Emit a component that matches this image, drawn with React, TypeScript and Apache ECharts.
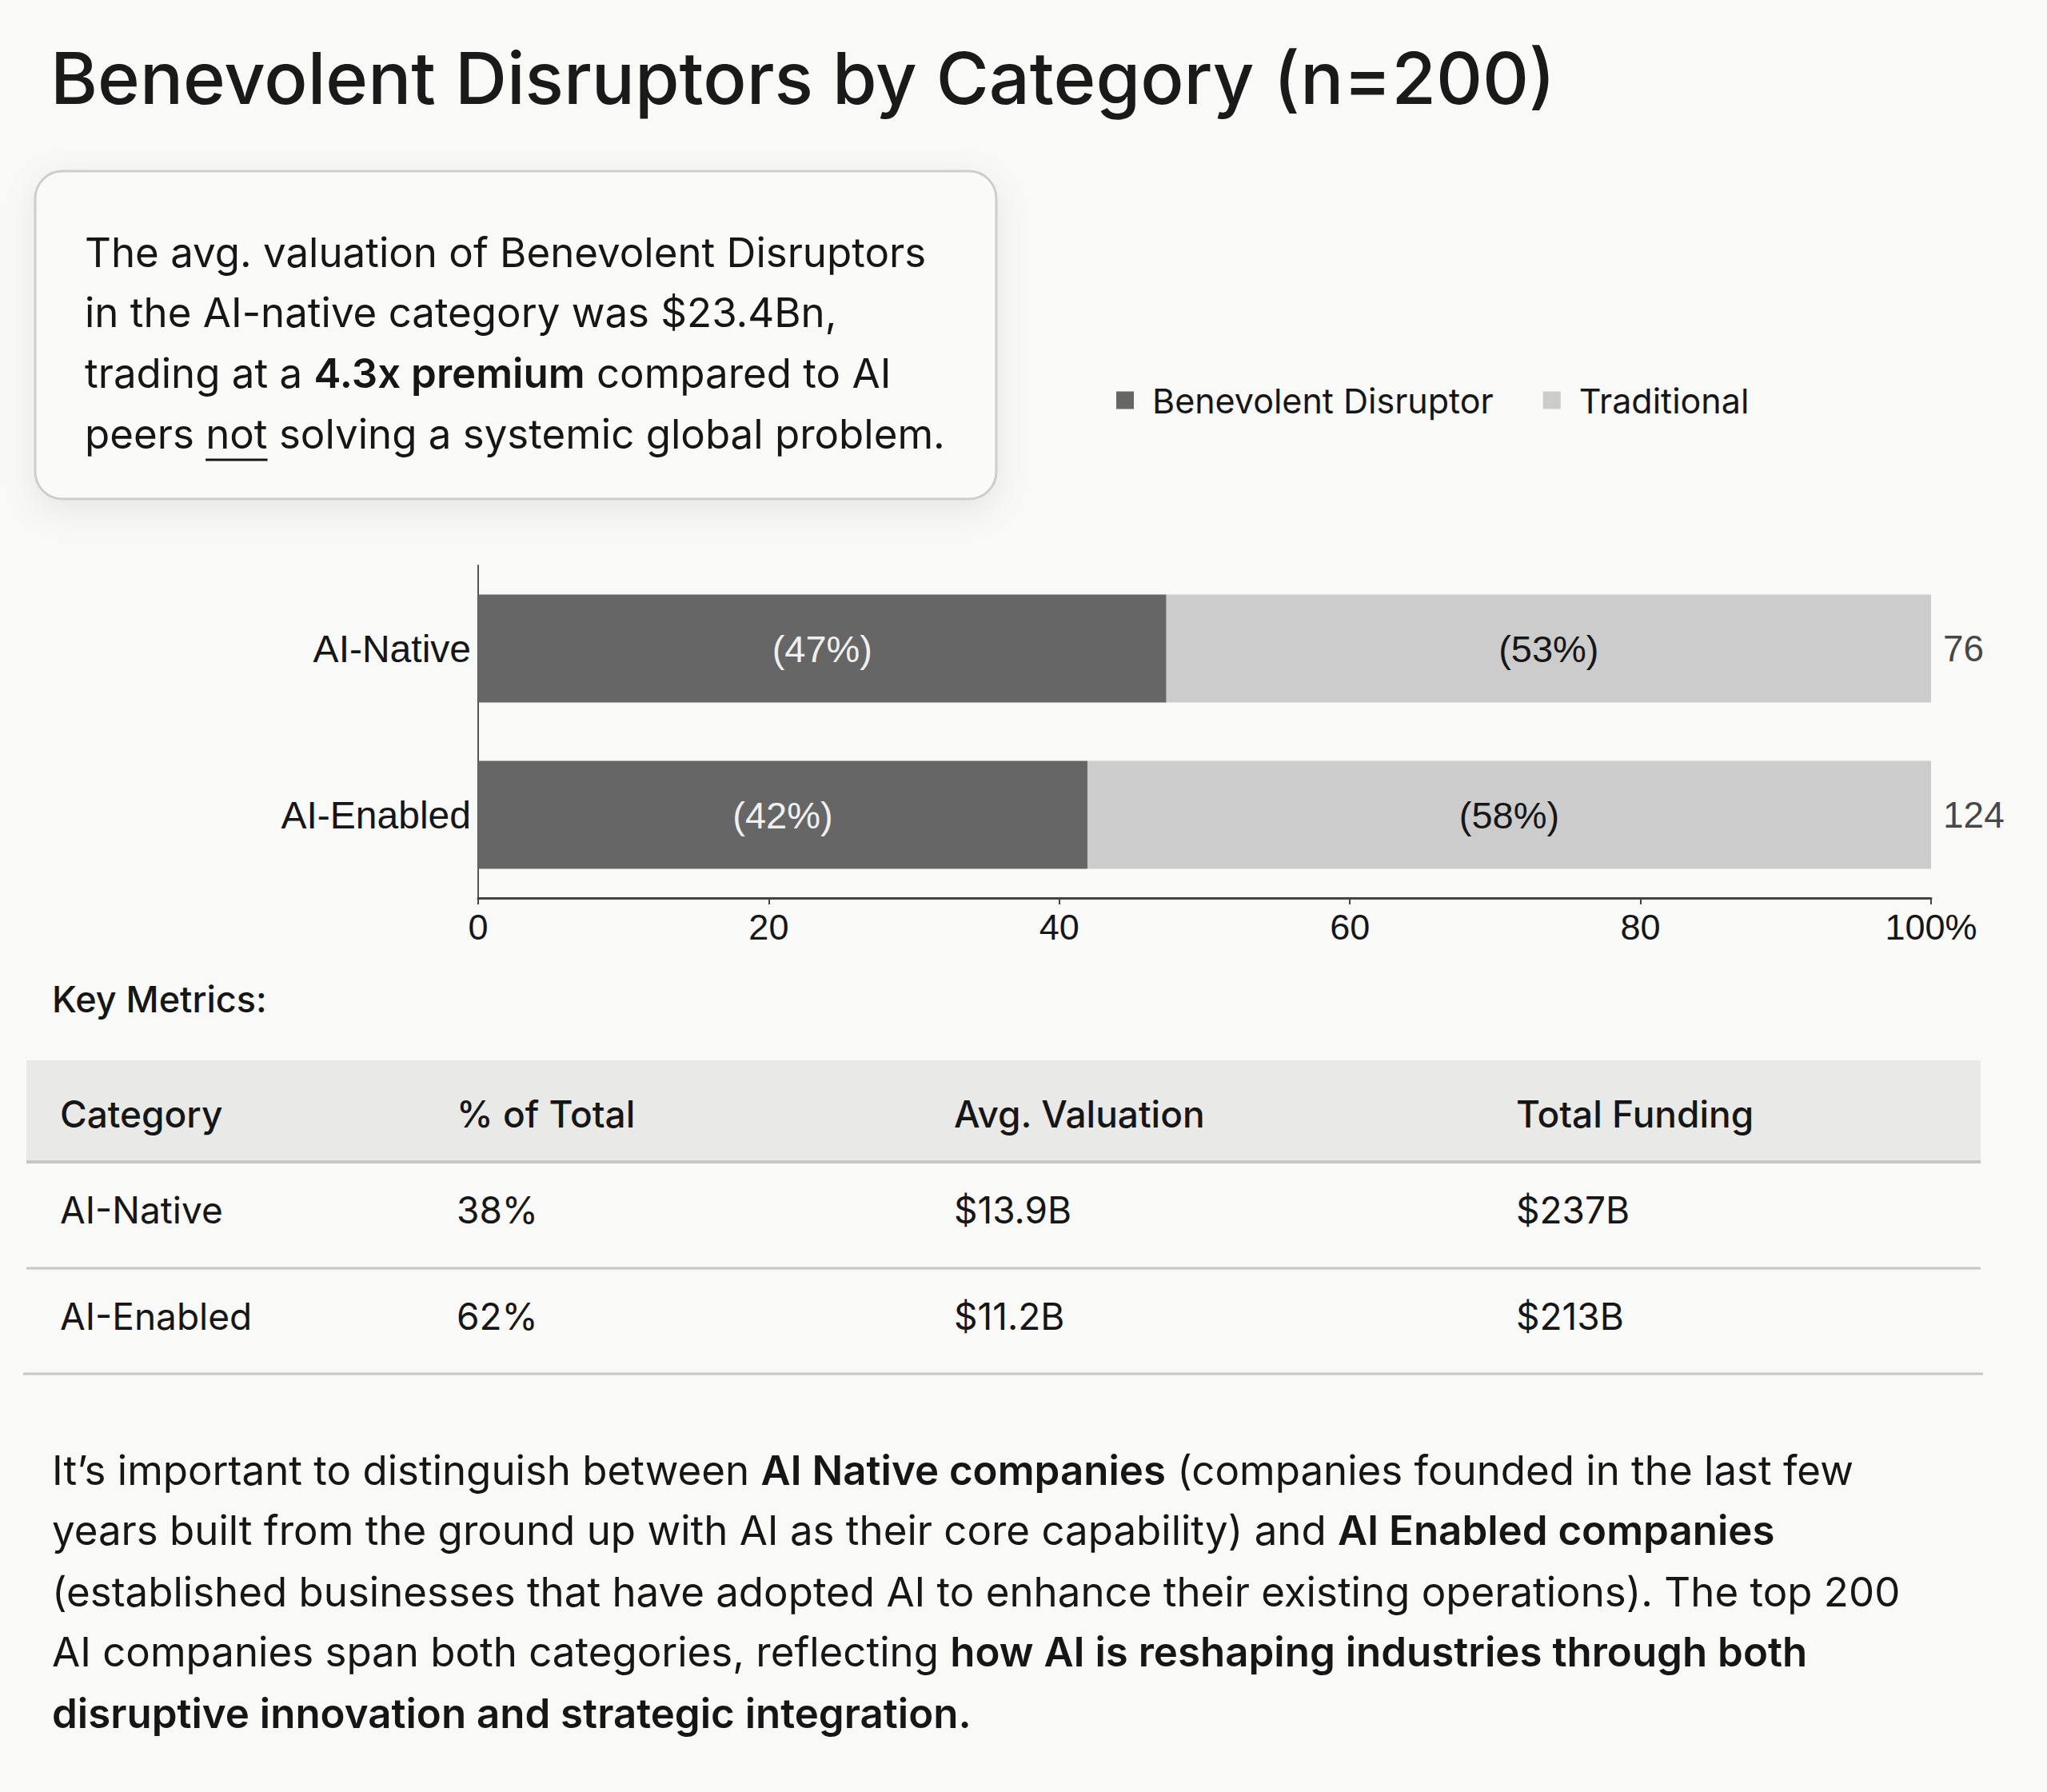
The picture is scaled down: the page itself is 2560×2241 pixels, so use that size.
import React, { useEffect, useRef } from 'react';
import * as echarts from 'echarts';

// ---------- data ----------
const categories = ['AI-Native', 'AI-Enabled'];
const seriesNames = ['Benevolent Disruptor', 'Traditional'];
// company counts per category (n=200)
const benevolentCount = [36, 52];
const traditionalCount = [40, 72];
const totals = [76, 124];

const tableHeaders = ['Category', '% of Total', 'Avg. Valuation', 'Total Funding'];
const tableCategory = ['AI-Native', 'AI-Enabled'];
const shareOfTotal = ['38%', '62%'];
const avgValuation = ['$13.9B', '$11.2B'];
const totalFunding = ['$237B', '$213B'];

const titleText = 'Benevolent Disruptors by Category (n=200)';
const keyMetricsText = 'Key Metrics:';

// ---------- style ----------
const W = 2560;
const H = 2241;
const BG = '#f9f9f7';
const SANS = 'Inter, "Noto Sans", sans-serif';
const ARIAL = '"Liberation Sans", Arial, sans-serif';
const INK = '#161616';

function measure(text: string, font: string): number {
  const c = document.createElement('canvas');
  const ctx = c.getContext('2d');
  if (!ctx) return text.length * 25;
  ctx.font = font;
  return ctx.measureText(text).width;
}

function txt(x: number, y: number, text: string, size: number, weight: number, opts: any = {}) {
  return {
    type: 'text',
    x,
    y,
    silent: true,
    style: {
      text,
      fontSize: size,
      fontWeight: weight,
      fontFamily: opts.family || SANS,
      fill: opts.fill || INK,
      textAlign: opts.align || 'left',
      align: opts.align || 'left',
      textVerticalAlign: 'middle',
      verticalAlign: 'middle',
    },
  };
}

function richLine(x: number, y: number, text: string, size: number) {
  return {
    type: 'text',
    x,
    y,
    silent: true,
    style: {
      text,
      fontSize: size,
      fontFamily: SANS,
      fill: INK,
      textVerticalAlign: 'middle',
      verticalAlign: 'middle',
      rich: {
        r: { fontSize: size, fontFamily: SANS, fontWeight: 400, fill: INK, lineHeight: size * 1.2 },
        b: { fontSize: size, fontFamily: SANS, fontWeight: 600, fill: INK, lineHeight: size * 1.2 },
      },
    },
  };
}

export default function App() {
  const ref = useRef<HTMLDivElement>(null);

  useEffect(() => {
    document.body.style.margin = '0';
    const el = ref.current;
    if (!el) return;
    const chart = echarts.init(el, null, { renderer: 'svg', width: W, height: H });

    const benevolentPct = benevolentCount.map((v, i) => (v / totals[i]) * 100);
    const traditionalPct = traditionalCount.map((v, i) => (v / totals[i]) * 100);

    const calloutSize = 51;
    const calloutX = 106;
    const calloutY = [315, 390, 466, 542];
    const calloutLines = [
      '{r|The avg. valuation of Benevolent Disruptors}',
      '{r|in the AI-native category was $23.4Bn,}',
      '{r|trading at a }{b|4.3x premium}{r| compared to AI}',
      '{r|peers not solving a systemic global problem.}',
    ];
    const underlineX = calloutX + measure('peers ', `400 ${calloutSize}px Inter`);
    const underlineW = measure('not', `400 ${calloutSize}px Inter`);

    const paraSize = 51;
    const paraX = 65;
    const paraY = [1838, 1913, 1990, 2065, 2142];
    const paraLines = [
      '{r|It\u2019s important to distinguish between }{b|AI Native companies}{r| (companies founded in the last few}',
      '{r|years built from the ground up with AI as their core capability) and }{b|AI Enabled companies}',
      '{r|(established businesses that have adopted AI to enhance their existing operations). The top 200}',
      '{r|AI companies span both categories, reflecting }{b|how AI is reshaping industries through both}',
      '{b|disruptive innovation and strategic integration.}',
    ];

    const colX = [75, 571, 1193, 1896];
    const rowY = [1513, 1646];
    const tableRows = tableCategory.map((c, i) => [c, shareOfTotal[i], avgValuation[i], totalFunding[i]]);

    const graphic: any[] = [
      txt(63, 97, titleText, 90, 500, { fill: '#1a1a1a' }),
      {
        type: 'rect',
        silent: true,
        shape: { x: 44, y: 214, width: 1202, height: 410, r: 34 },
        style: {
          fill: '#fafaf8',
          stroke: '#cdcdcd',
          lineWidth: 3,
          shadowBlur: 40,
          shadowColor: 'rgba(0,0,0,0.08)',
          shadowOffsetY: 12,
        },
      },
      ...calloutLines.map((l, i) => richLine(calloutX, calloutY[i], l, calloutSize)),
      {
        type: 'line',
        silent: true,
        shape: { x1: underlineX, y1: 575, x2: underlineX + underlineW, y2: 575 },
        style: { stroke: INK, lineWidth: 3 },
      },
      txt(65, 1249, keyMetricsText, 45, 500),
      {
        type: 'rect',
        silent: true,
        shape: { x: 33, y: 1326, width: 2444, height: 126 },
        style: { fill: '#e9e9e7' },
      },
      {
        type: 'line',
        silent: true,
        shape: { x1: 33, y1: 1453, x2: 2477, y2: 1453 },
        style: { stroke: '#c6c6c6', lineWidth: 4 },
      },
      {
        type: 'line',
        silent: true,
        shape: { x1: 33, y1: 1586, x2: 2477, y2: 1586 },
        style: { stroke: '#c6c6c6', lineWidth: 3 },
      },
      {
        type: 'line',
        silent: true,
        shape: { x1: 29, y1: 1718, x2: 2480, y2: 1718 },
        style: { stroke: '#c6c6c6', lineWidth: 3 },
      },
      ...tableHeaders.map((h, i) => txt(colX[i], 1393, h, 46, 500)),
      ...tableRows.flatMap((row, r) => row.map((v, c) => txt(colX[c], rowY[r], v, 46, 400))),
      ...paraLines.map((l, i) => richLine(paraX, paraY[i], l, paraSize)),
    ];

    const option: any = {
      animation: false,
      backgroundColor: BG,
      legend: {
        data: seriesNames,
        left: 1391,
        top: 474,
        icon: 'rect',
        itemWidth: 22,
        itemHeight: 22,
        itemGap: 62,
        textStyle: {
          fontFamily: SANS,
          fontSize: 43,
          color: INK,
          padding: [0, 0, 0, 18],
        },
        selectedMode: false,
      },
      grid: {
        left: 598,
        right: W - 2415,
        top: 707,
        bottom: H - 1123,
        containLabel: false,
      },
      xAxis: {
        type: 'value',
        min: 0,
        max: 100,
        interval: 20,
        axisLine: { show: true, lineStyle: { color: '#444', width: 3 } },
        axisTick: { show: true, length: 8, lineStyle: { color: '#444', width: 2 } },
        splitLine: { show: false },
        axisLabel: {
          fontFamily: ARIAL,
          fontSize: 45,
          color: INK,
          margin: 14,
          formatter: (v: number) => (v === 100 ? '100%' : String(v)),
        },
      },
      yAxis: {
        type: 'category',
        inverse: true,
        data: categories,
        axisLine: { show: true, lineStyle: { color: '#555', width: 2 } },
        axisTick: { show: false },
        axisLabel: {
          fontFamily: ARIAL,
          fontSize: 48,
          color: INK,
          margin: 9,
        },
      },
      series: [
        {
          name: seriesNames[0],
          type: 'bar',
          stack: 'share',
          barWidth: '65%',
          data: benevolentPct,
          itemStyle: { color: '#666666' },
          label: {
            show: true,
            position: 'inside',
            fontFamily: ARIAL,
            fontSize: 47,
            color: '#f0f0f0',
            formatter: (p: any) => `(${Math.round(p.value)}%)`,
          },
        },
        {
          name: seriesNames[1],
          type: 'bar',
          stack: 'share',
          barWidth: '65%',
          data: traditionalPct,
          itemStyle: { color: '#cccccc' },
          label: {
            show: true,
            position: 'inside',
            fontFamily: ARIAL,
            fontSize: 47,
            color: INK,
            formatter: (p: any) => `(${Math.round(p.value)}%)`,
          },
        },
        {
          name: 'total',
          type: 'scatter',
          data: categories.map((c) => [100, c]),
          symbolSize: 2,
          itemStyle: { color: 'rgba(0,0,0,0)' },
          silent: true,
          z: 5,
          label: {
            show: true,
            position: 'right',
            distance: 14,
            fontFamily: ARIAL,
            fontSize: 46,
            color: INK,
            formatter: (p: any) => String(totals[p.dataIndex]),
          },
        },
      ],
      graphic: { elements: graphic },
    };

    chart.setOption(option);
    return () => chart.dispose();
  }, []);

  return (
    <div
      ref={ref}
      style={{ position: 'absolute', left: 0, top: 0, width: W, height: H, background: BG }}
    />
  );
}
